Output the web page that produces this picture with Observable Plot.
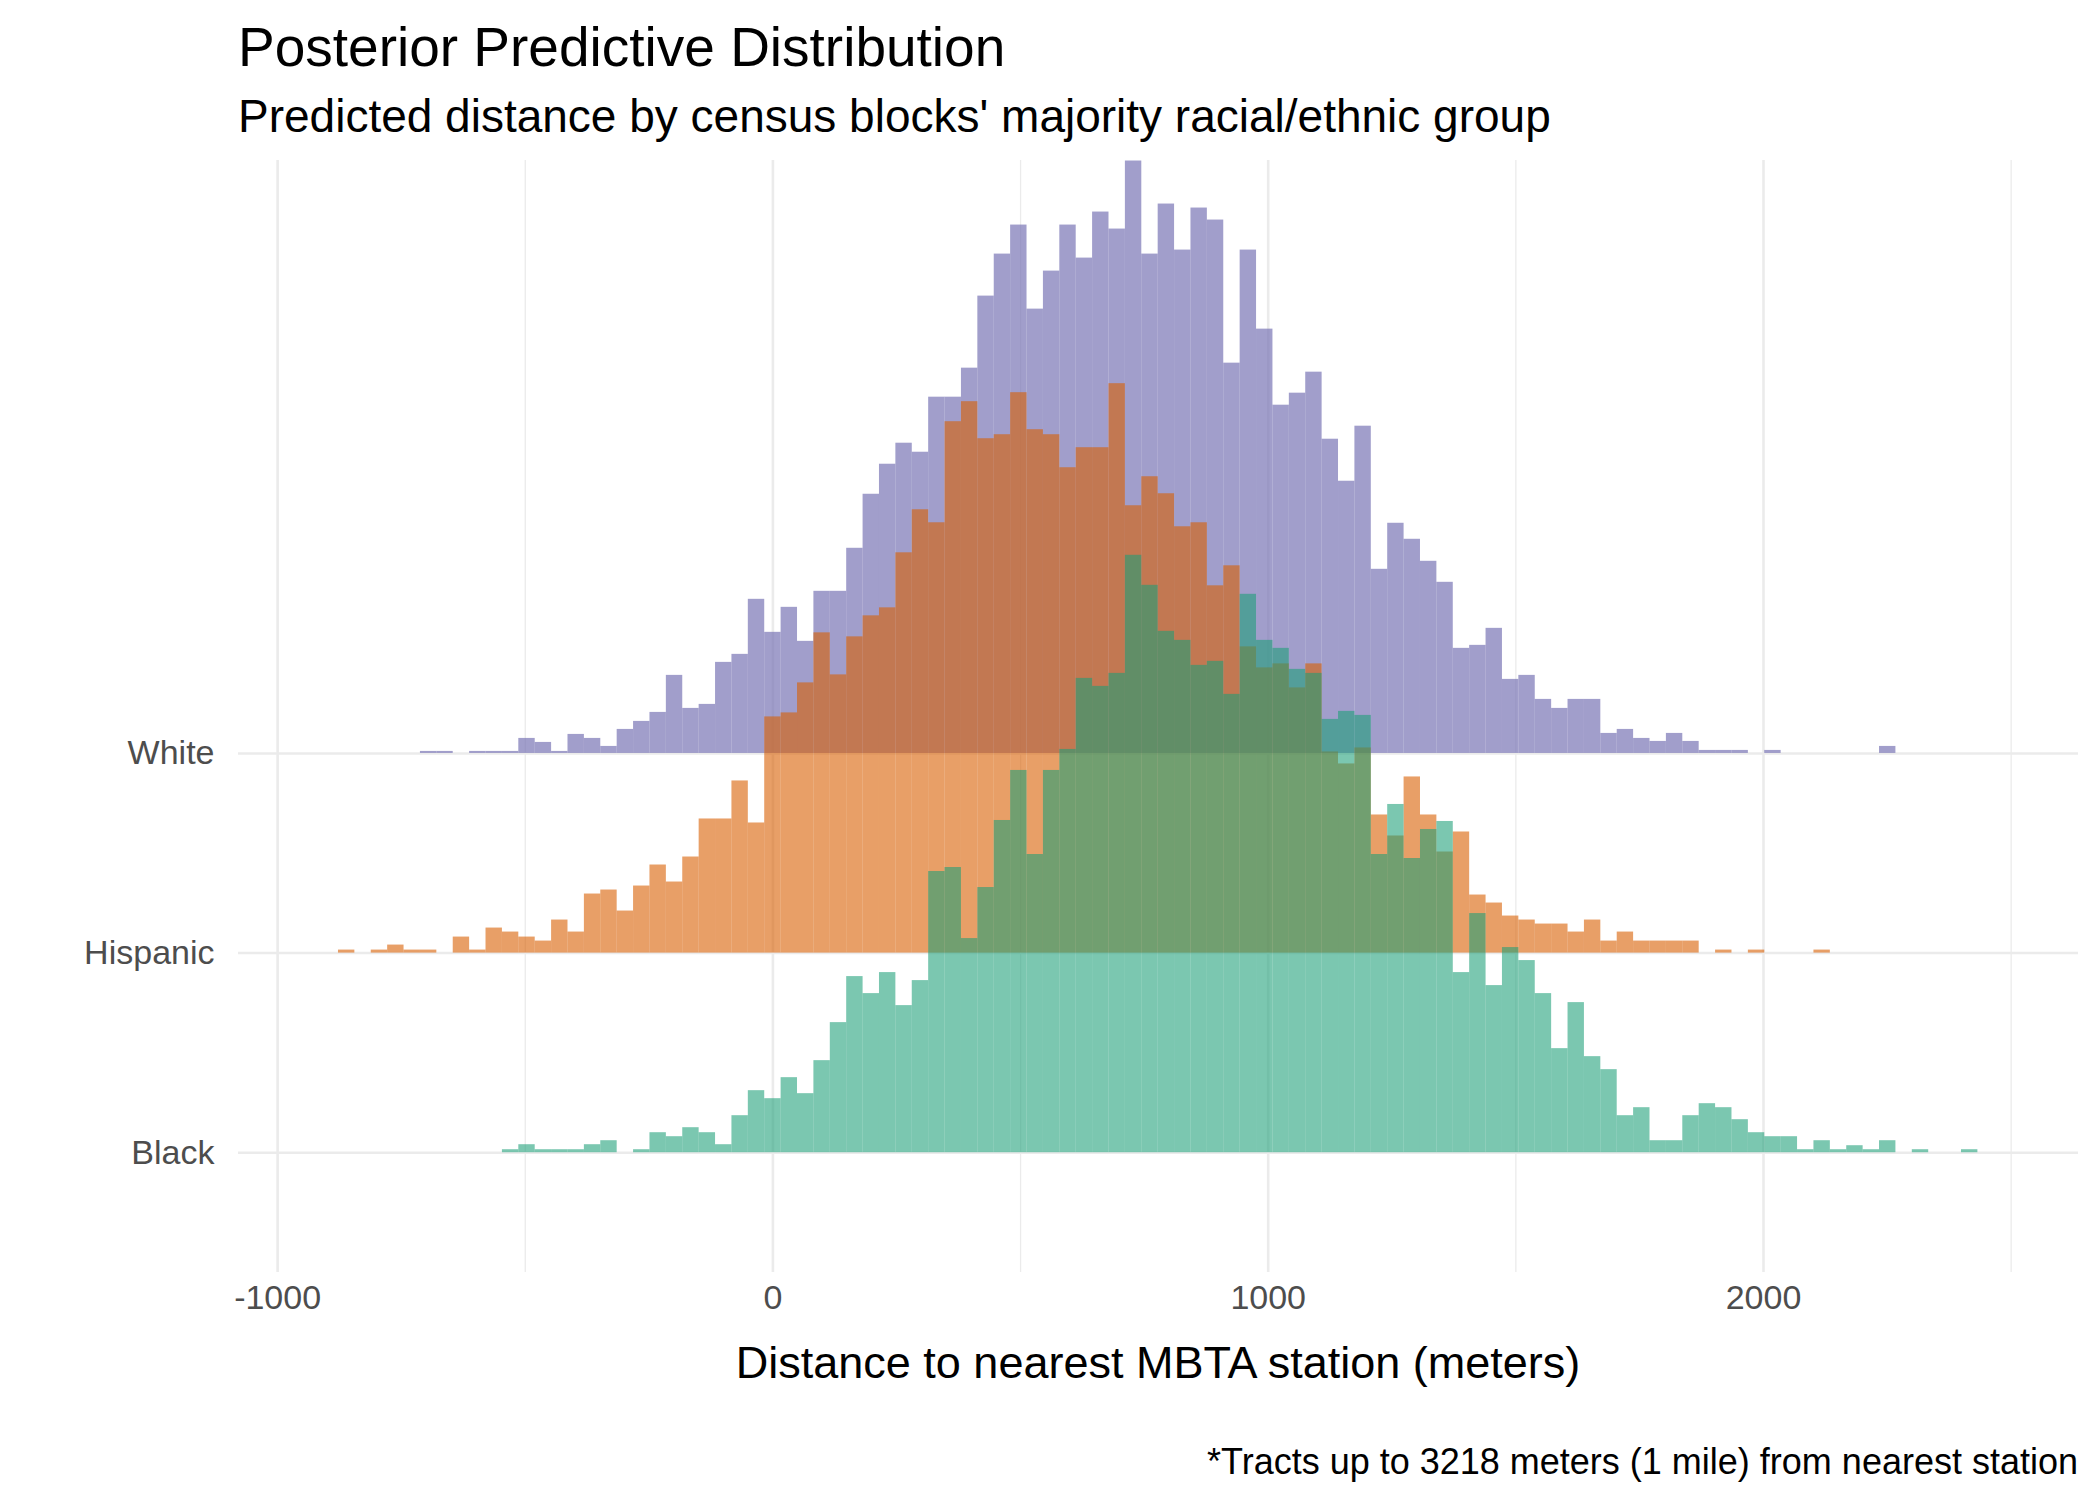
<!DOCTYPE html>
<html>
<head>
<meta charset="utf-8">
<script src="https://cdn.jsdelivr.net/npm/d3@7"></script>
<script src="https://cdn.jsdelivr.net/npm/@observablehq/plot@0.6"></script>
<style>
  body { margin: 0; background: #fff; }
  #chart { position: relative; width: 2100px; height: 1500px; font-family: "Liberation Sans", Arial, sans-serif; }
  #chart svg { position: absolute; left: 0; top: 0; }
  .txt { position: absolute; line-height: 1; white-space: nowrap; color: #000; }
  #title { left: 238px; top: 20px; font-size: 55px; }
  #subtitle { left: 238px; top: 93px; font-size: 46px; }
  #xlabel { left: 238px; width: 1840px; text-align: center; top: 1340px; font-size: 45px; }
  #caption { right: 22px; top: 1444px; font-size: 36px; }
</style>
</head>
<body>
<div id="chart">
  <div class="txt" id="title">Posterior Predictive Distribution</div>
  <div class="txt" id="subtitle">Predicted distance by census blocks' majority racial/ethnic group</div>
  <div class="txt" id="xlabel">Distance to nearest MBTA station (meters)</div>
  <div class="txt" id="caption">*Tracts up to 3218 meters (1 mile) from nearest station</div>
</div>
<script>
// Ridgeline rows, bottom to top
const groups = ["Black", "Hispanic", "White"];
const colors = { Black: "#1B9E77", Hispanic: "#D95F02", White: "#7570B3" };

// Histogram bins (meters), bin k is centred on k * binWidth
const binWidth = 33.1;

// Bin heights (shared ridgeline scale)
const whiteStart = -21;
const whiteCounts = [
  2, 2, 0, 2, 2, 2, 15, 11, 2, 19,
  15, 7, 24, 32, 41, 78, 45, 49, 91, 99,
  154, 121, 146, 112, 162, 162, 205, 259, 289, 310,
  301, 356, 356, 385, 457, 499, 528, 444, 482, 528,
  495, 541, 524, 592, 499, 549, 503, 545, 533, 390,
  503, 424, 348, 360, 381, 314, 272, 327, 184, 230,
  214, 192, 171, 105, 108, 125, 74, 78, 54, 45,
  54, 54, 20, 24, 15, 12, 20, 12, 3, 3,
  3, 0, 3, 0, 0, 0, 0, 0, 0, 7
];

const hispanicStart = -26;
const hispanicCounts = [
  3, 0, 3, 8, 3, 3, 0, 16, 3, 25,
  21, 16, 12, 33, 21, 59, 63, 42, 67, 88,
  71, 96, 134, 134, 172, 130, 236, 240, 270, 320,
  278, 316, 337, 345, 400, 443, 430, 531, 551, 514,
  518, 560, 523, 518, 485, 505, 505, 569, 447, 476,
  459, 426, 430, 367, 387, 306, 285, 289, 265, 289,
  201, 189, 205, 138, 117, 176, 138, 101, 121, 58,
  50, 37, 33, 29, 29, 21, 33, 12, 21, 12,
  12, 12, 12, 0, 3, 0, 3, 0, 0, 0,
  3
];

const blackStart = -16;
const blackCounts = [
  3, 8, 3, 3, 3, 8, 12, 0, 3, 20,
  16, 25, 20, 8, 37, 62, 54, 75, 59, 92,
  130, 176, 159, 180, 147, 172, 281, 285, 214, 265,
  332, 382, 298, 382, 403, 474, 466, 479, 597, 567,
  521, 512, 487, 491, 458, 558, 512, 504, 483, 479,
  433, 441, 437, 298, 348, 294, 323, 331, 180, 239,
  167, 205, 192, 159, 104, 150, 96, 83, 37, 45,
  12, 12, 37, 49, 45, 33, 20, 16, 16, 3,
  12, 3, 7, 3, 12, 0, 3, 0, 0, 3
];

const xTicks = [-1000, 0, 1000, 2000];
const xGrid = [-1000, -500, 0, 500, 1000, 1500, 2000, 2500];

// height units per ridgeline row
const perRow = 199.5;

function toBins(group, start, counts) {
  const row = groups.indexOf(group);
  return counts
    .map((c, i) => ({ k: start + i, c }))
    .filter(d => d.c > 0)
    .map(d => ({
      x1: (d.k - 0.5) * binWidth,
      x2: (d.k + 0.5) * binWidth,
      y1: row,
      y2: row + d.c / perRow
    }));
}

const whiteBins = toBins("White", whiteStart, whiteCounts);
const hispanicBins = toBins("Hispanic", hispanicStart, hispanicCounts);
const blackBins = toBins("Black", blackStart, blackCounts);

const svg = Plot.plot({
  width: 2100,
  height: 1500,
  marginLeft: 238,
  marginRight: 22,
  marginTop: 160,
  marginBottom: 228,
  style: { fontFamily: "'Liberation Sans', Arial, sans-serif", fontSize: "34px", background: "transparent", overflow: "visible" },
  x: { domain: [-1079, 2636] },
  y: { domain: [-0.6, 4.97] },
  marks: [
    Plot.ruleX(xGrid.filter(d => d % 1000 !== 0), { stroke: "#ebebeb", strokeWidth: 1.3 }),
    Plot.ruleX(xTicks, { stroke: "#ebebeb", strokeWidth: 2.6 }),
    Plot.ruleY([0, 1, 2], { stroke: "#ebebeb", strokeWidth: 2.6 }),
    Plot.rectY(whiteBins, { x1: "x1", x2: "x2", y1: "y1", y2: "y2", fill: colors.White, fillOpacity: 0.68 }),
    Plot.rectY(hispanicBins, { x1: "x1", x2: "x2", y1: "y1", y2: "y2", fill: colors.Hispanic, fillOpacity: 0.6 }),
    Plot.rectY(blackBins, { x1: "x1", x2: "x2", y1: "y1", y2: "y2", fill: colors.Black, fillOpacity: 0.58 }),
    Plot.axisX(xTicks, { tickSize: 0, tickPadding: 12, tickFormat: d => String(d), fill: "#4d4d4d", label: null }),
    Plot.axisY([0, 1, 2], { tickSize: 0, tickPadding: 24, tickFormat: d => groups[d], fill: "#4d4d4d", label: null })
  ]
});

document.getElementById("chart").prepend(svg);
</script>
</body>
</html>
